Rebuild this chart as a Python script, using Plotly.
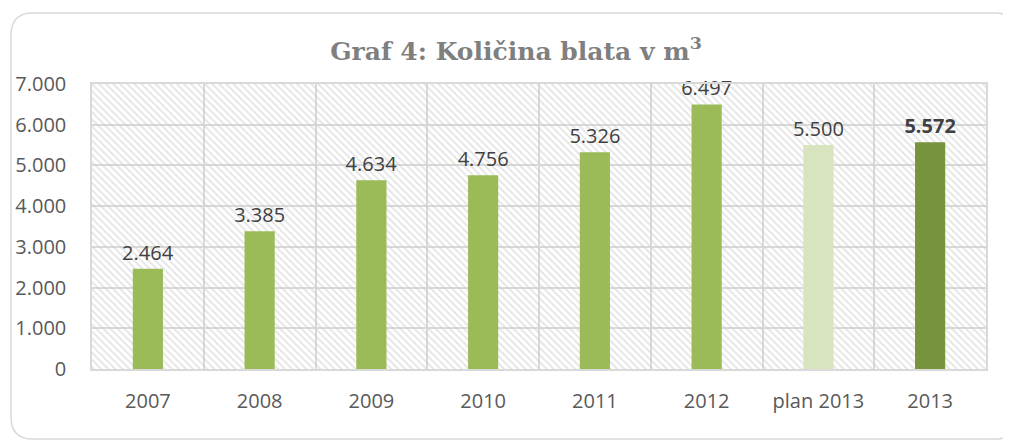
import plotly.graph_objects as go

categories = ["2007", "2008", "2009", "2010", "2011", "2012", "plan 2013", "2013"]
values = [2464, 3385, 4634, 4756, 5326, 6497, 5500, 5572]
labels = ["2.464", "3.385", "4.634", "4.756", "5.326", "6.497", "5.500", "<b>5.572</b>"]
bar_colors = ["#9bbb59", "#9bbb59", "#9bbb59", "#9bbb59", "#9bbb59", "#9bbb59", "#d7e4bd", "#77933c"]
y_ticks = [0, 1000, 2000, 3000, 4000, 5000, 6000, 7000]
y_tick_text = ["0", "1.000", "2.000", "3.000", "4.000", "5.000", "6.000", "7.000"]

W, H = 1011, 441
OFF = 7  # page body margin shift
L, R, T, B = 91 - OFF, 985 - OFF, 83 - OFF, 368 - OFF

fig = go.Figure()

# hatched plot-area background on the base (numeric) axis
fig.add_trace(go.Bar(
    x=[len(categories) / 2], y=[max(y_ticks)], width=[len(categories)],
    xaxis="x", marker=dict(color="rgba(0,0,0,0)", line=dict(width=0),
                           pattern=dict(shape="\\", fgcolor="#cccccc", bgcolor="rgba(0,0,0,0)",
                                        size=5, solidity=0.4)),
    hoverinfo="skip", showlegend=False,
))

# data bars on the overlaying category axis (drawn above the background)
fig.add_trace(go.Bar(
    x=categories, y=values, xaxis="x2",
    marker=dict(color=bar_colors, line=dict(width=0)),
    text=labels, textposition="outside", cliponaxis=False, constraintext="none",
    textfont=dict(family="Open Sans", size=20, color="#404040"),
    showlegend=False,
))

def px2x(px):
    return (px - OFF - L) / (R - L)

def py2y(py):
    return (B - (py - OFF)) / (B - T)

x0, x1, y0, y1, r = 10, 1016, 12, 438, 22
path = (f"M {px2x(x0 + r)},{py2y(y0)} L {px2x(x1 - r)},{py2y(y0)} "
        f"Q {px2x(x1)},{py2y(y0)} {px2x(x1)},{py2y(y0 + r)} "
        f"L {px2x(x1)},{py2y(y1 - r)} Q {px2x(x1)},{py2y(y1)} {px2x(x1 - r)},{py2y(y1)} "
        f"L {px2x(x0 + r)},{py2y(y1)} Q {px2x(x0)},{py2y(y1)} {px2x(x0)},{py2y(y1 - r)} "
        f"L {px2x(x0)},{py2y(y0 + r)} Q {px2x(x0)},{py2y(y0)} {px2x(x0 + r)},{py2y(y0)} Z")

fig.update_layout(
    width=W, height=H,
    margin=dict(l=L, r=W - R, t=T, b=H - B, pad=0, autoexpand=False),
    paper_bgcolor="white", plot_bgcolor="white",
    bargap=0.73,
    title=dict(text="Graf 4: Količina blata v m<sup>3</sup>", x=(515 - OFF) / W, xanchor="center",
               y=1 - (50 - OFF) / H, yanchor="middle",
               font=dict(family="DejaVu Serif", size=25, color="#7f7f7f", weight="bold")),
    xaxis=dict(range=[0, len(categories)], showgrid=True, gridcolor="#d9d9d9",
               gridwidth=1.5, dtick=1, tick0=0, showticklabels=False, zeroline=False,
               showline=True, linecolor="#d9d9d9", mirror=True, linewidth=1.5,
               automargin=False),
    xaxis2=dict(type="category", overlaying="x", side="bottom", showgrid=False, zeroline=False,
                showline=False, automargin=False,
                ticks="outside", ticklen=14, tickcolor="rgba(0,0,0,0)",
                tickfont=dict(family="Open Sans", size=20, color="#595959")),
    yaxis=dict(range=[0, 7000], tickvals=y_ticks, ticktext=y_tick_text,
               showgrid=True, gridcolor="#d9d9d9", gridwidth=1.5, zeroline=False,
               showline=True, linecolor="#d9d9d9", linewidth=1.5, mirror=True,
               ticks="outside", ticklen=20, tickcolor="rgba(0,0,0,0)", automargin=False,
               tickfont=dict(family="Open Sans", size=20, color="#595959")),
    shapes=[dict(type="path", xref="paper", yref="paper", path=path,
                 line=dict(color="#d9d9d9", width=1.5), fillcolor="rgba(0,0,0,0)", layer="below")],
)

fig.write_html("out.html")
